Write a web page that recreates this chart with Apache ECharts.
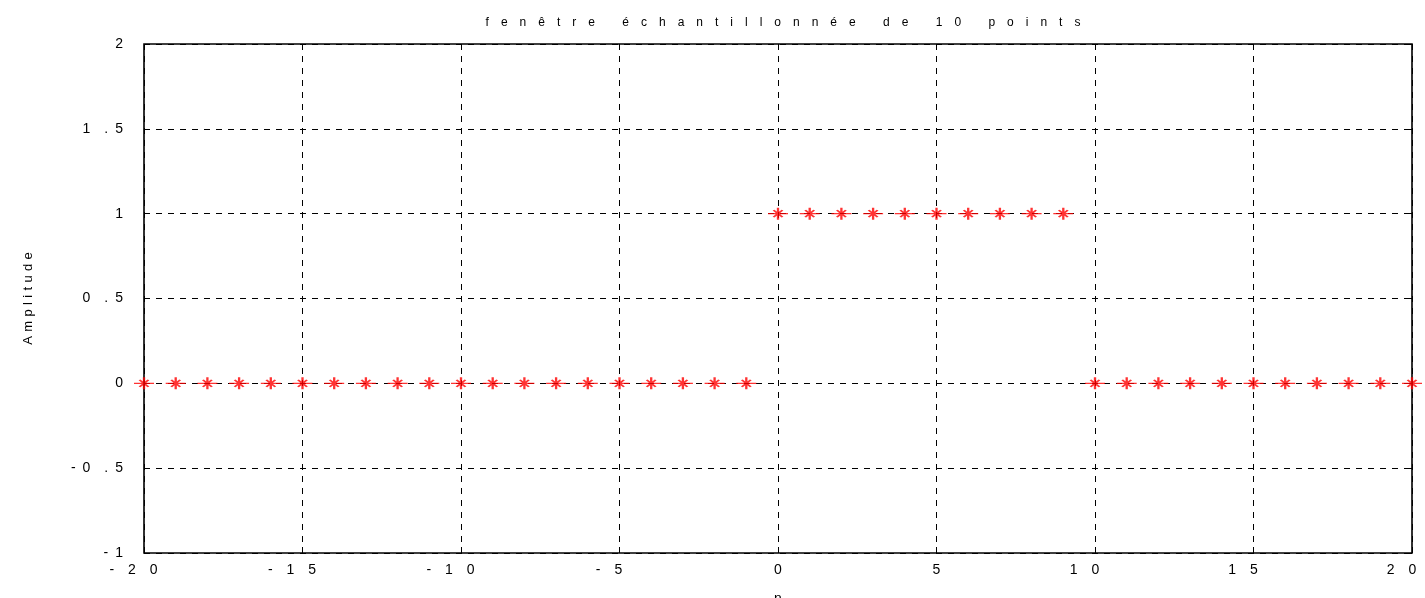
<!DOCTYPE html>
<html>
<head>
<meta charset="utf-8">
<script src="https://cdn.jsdelivr.net/npm/echarts@6/dist/echarts.min.js"></script>
<style>html,body{margin:0;padding:0;background:#fff;}#c{width:1425px;height:598px;}</style>
</head>
<body>
<div id="c"></div>
<script>
const titleText = 'fenêtre échantillonnée de 10 points';
const xName = 'n';
const yName = 'Amplitude';
const nValues = [-20,-19,-18,-17,-16,-15,-14,-13,-12,-11,-10,-9,-8,-7,-6,-5,-4,-3,-2,-1,0,1,2,3,4,5,6,7,8,9,10,11,12,13,14,15,16,17,18,19,20];
const amplitude = [0,0,0,0,0,0,0,0,0,0,0,0,0,0,0,0,0,0,0,0,1,1,1,1,1,1,1,1,1,1,0,0,0,0,0,0,0,0,0,0,0];
const xTicks = [-20,-15,-10,-5,0,5,10,15,20];
const yTicks = [-1,-0.5,0,0.5,1,1.5,2];

const EM = '\u2003', EN = '\u2002', THREE = '\u2004';
// letter-spaced rendering of the same text
const spaced = (s, gap) => String(s).split(' ').map(w => w.split('').join(gap)).join(gap + ' ' + gap);
const tickLab = v => { const s = spaced(v, EM); return String(v).length > 1 ? s + EM + EN : s; };
const yLab = v => {
  const s = String(v);
  let out = '';
  for (let i = 0; i < s.length; i++) {
    const c = s[i], nx = s[i + 1];
    out += c;
    if (nx === undefined) break;
    if (c === '-') out += EN;
    else if (nx === '.') out += EM;
    else if (c === '.') out += EN;
    else out += EM;
  }
  return out;
};
const font = 'Liberation Sans';
const chart = echarts.init(document.getElementById('c'));
const star = 'path://M0,6L20,6M10,0L10,12M5.5,2.5L14.5,9.5M5.5,9.5L14.5,2.5';
const hidden = {
  axisLine:{show:false,onZero:false},
  axisTick:{show:true,inside:true,length:6,lineStyle:{color:'#000',width:1}},
  axisLabel:{show:false},
  splitLine:{show:false}
};
chart.setOption({
  animation:false,
  backgroundColor:'#fff',
  title:{text:spaced(titleText, EM),left:778,textAlign:'center',top:12,
    textStyle:{fontFamily:font,fontSize:12,fontWeight:'normal',color:'#000'}},
  grid:{left:144,right:13,top:44,bottom:45,show:true,borderColor:'#000',borderWidth:1.6,
    containLabel:false,outerBoundsMode:'none'},
  xAxis:[{
    type:'value',min:-20,max:20,interval:5,position:'bottom',
    name:xName,nameLocation:'middle',nameGap:39,
    nameTextStyle:{fontFamily:font,fontSize:14,color:'#000'},
    axisLabel:{fontFamily:font,fontSize:14,color:'#000',margin:10,formatter:tickLab},
    axisLine:{show:false,onZero:false},
    axisTick:{show:true,inside:true,length:6,lineStyle:{color:'#000'}},
    splitLine:{show:true,lineStyle:{color:'#000',type:[6,6],width:1}}
  },{
    type:'value',min:-20,max:20,interval:5,position:'top',...hidden
  }],
  yAxis:[{
    type:'value',min:-1,max:2,interval:0.5,position:'left',
    name:spaced(yName, THREE),nameLocation:'middle',nameGap:109,nameRotate:90,
    nameTextStyle:{fontFamily:font,fontSize:13,color:'#000'},
    axisLabel:{fontFamily:font,fontSize:14,color:'#000',margin:21,formatter:yLab},
    axisLine:{show:false,onZero:false},
    axisTick:{show:true,inside:true,length:6,lineStyle:{color:'#000'}},
    splitLine:{show:true,lineStyle:{color:'#000',type:[6,6],width:1}}
  },{
    type:'value',min:-1,max:2,interval:0.5,position:'right',...hidden
  }],
  series:[{
    type:'scatter',
    data:nValues.map((n,i)=>[n,amplitude[i]]),
    symbol:star,symbolSize:[20,12],
    clip:false,
    itemStyle:{color:'rgba(0,0,0,0)',borderColor:'#ff0000',borderWidth:1.8}
  }]
});
</script>
</body>
</html>
